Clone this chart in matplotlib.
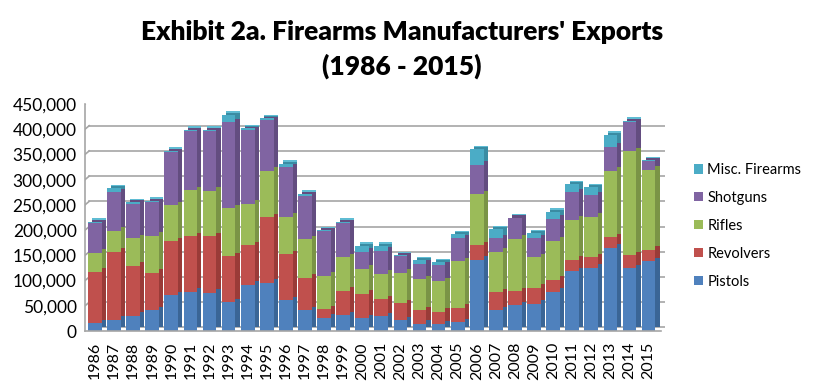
import numpy as np
import matplotlib.pyplot as plt
from matplotlib.patches import Patch
from matplotlib.ticker import FuncFormatter

years = list(range(1986, 2016))
pistols = [15000, 22000, 30000, 41000, 71000, 78000, 76000, 57000, 92000, 95500,
           61000, 41500, 26000, 31500, 25000, 29500, 21000, 14500, 13000, 17000,
           141500, 41500, 51000, 54000, 77500, 118500, 125000, 164500, 124000, 138000]
revolvers = [102000, 135000, 99500, 74000, 107000, 110000, 112000, 91000, 78000, 130000,
             91000, 64000, 17000, 48500, 49000, 33000, 34000, 26500, 25000, 29000,
             28000, 35500, 28000, 31500, 24500, 23000, 21000, 21000, 26000, 23000]
rifles = [38000, 42000, 54000, 74000, 71000, 91000, 90000, 95000, 82000, 92000,
          74000, 76000, 66000, 66000, 49500, 50500, 60500, 62000, 61000, 92000,
          102000, 80000, 104000, 61000, 77000, 79000, 80000, 132000, 206000, 159000]
shotguns = [59000, 76000, 68500, 66500, 105000, 117000, 118000, 171000, 146000, 100000,
            99000, 87000, 89000, 68000, 34000, 46000, 33000, 30000, 31000, 46000,
            58500, 27000, 41000, 37000, 43000, 54500, 43000, 48000, 59000, 17000]
misc = [3000, 8000, 3000, 3000, 3500, 3000, 3000, 15000, 4000, 4000,
        6000, 4000, 2000, 3000, 11000, 10000, 2000, 7000, 6000, 8000,
        30000, 18000, 1000, 10000, 14500, 16000, 16000, 24000, 1500, 1500]

names = ['Pistols', 'Revolvers', 'Rifles', 'Shotguns', 'Misc. Firearms']
series = [pistols, revolvers, rifles, shotguns, misc]
colors = ['#4F81BD', '#C0504D', '#9BBB59', '#8064A2', '#4BACC6']
dark = ['#3A6596', '#9A3B38', '#7A9446', '#634D80', '#3A8CA3']

plt.rcParams['font.family'] = ['Lato', 'DejaVu Sans']

fig = plt.figure(figsize=(8.15, 3.84), dpi=100)
ax = fig.add_axes([85 / 815, 1 - 331 / 384, 580 / 815, 227 / 384])

x = np.arange(len(years))
w = 0.72
dx, dy = 0.22, 7000

# back wall grid
for v in range(50000, 450001, 50000):
    ax.plot([-0.52 + dx, 29.86], [v + dy, v + dy], color='#A6A6A6', lw=1.2, zorder=0)
    ax.plot([-0.52, -0.52 + dx], [v, v + dy], color='#A6A6A6', lw=1.2, zorder=0)
ax.plot([-0.52 + dx, 29.86], [dy, dy], color='#A6A6A6', lw=1.2, zorder=0)

bottom = np.zeros(len(years))
bottoms = []
for s in series:
    bottoms.append(bottom.copy())
    bottom += np.array(s)

# depth faces drawn first, offset up and right
for s, b, c in zip(series, bottoms, dark):
    ax.bar(x + dx, s, w, bottom=b + dy, color=c, zorder=1, linewidth=0)
# light top cap
ax.bar(x + dx, 3000, w, bottom=bottom + dy - 3000, color='#5FBCD3', zorder=1.5, linewidth=0)
for s, b, c in zip(series, bottoms, colors):
    ax.bar(x, s, w, bottom=b, color=c, zorder=2, linewidth=0)

ax.set_xlim(-0.52, 29.86)
ax.set_ylim(0, 450000)
ax.set_yticks(range(0, 450001, 50000))
ax.yaxis.set_major_formatter(FuncFormatter(lambda v, p: f'{int(v):,}'))
ax.set_xticks(x)
ax.set_xticklabels(years, rotation=90)
ax.tick_params(axis='both', length=0, colors='black')
ax.tick_params(axis='y', pad=6, labelsize=12.5)
ax.tick_params(axis='x', pad=8, labelsize=11.5)
for sp in ['top', 'right', 'bottom']:
    ax.spines[sp].set_visible(False)
ax.spines['left'].set_color('#A6A6A6')
ax.spines['left'].set_linewidth(1.2)
ax.plot([-0.52, 29.86 - dx], [0, 0], color='#A6A6A6', lw=1.2, zorder=3, clip_on=False)

handles = [Patch(facecolor=c, edgecolor='none') for c in colors][::-1]
fig.legend(handles, names[::-1], loc='upper left', bbox_to_anchor=(681 / 815, 1 - 150 / 384),
           frameon=False, fontsize=10.5, handlelength=0.6, handleheight=0.6,
           handletextpad=0.3, labelspacing=0.95)

fig.text(0.493, 1 - 32 / 384, "Exhibit 2a. Firearms Manufacturers' Exports", ha='center', va='center',
         fontsize=19, fontweight='heavy')
fig.text(0.493, 1 - 66 / 384, "(1986 - 2015)", ha='center', va='center',
         fontsize=19, fontweight='heavy')

fig.savefig('out.png', dpi=100)
